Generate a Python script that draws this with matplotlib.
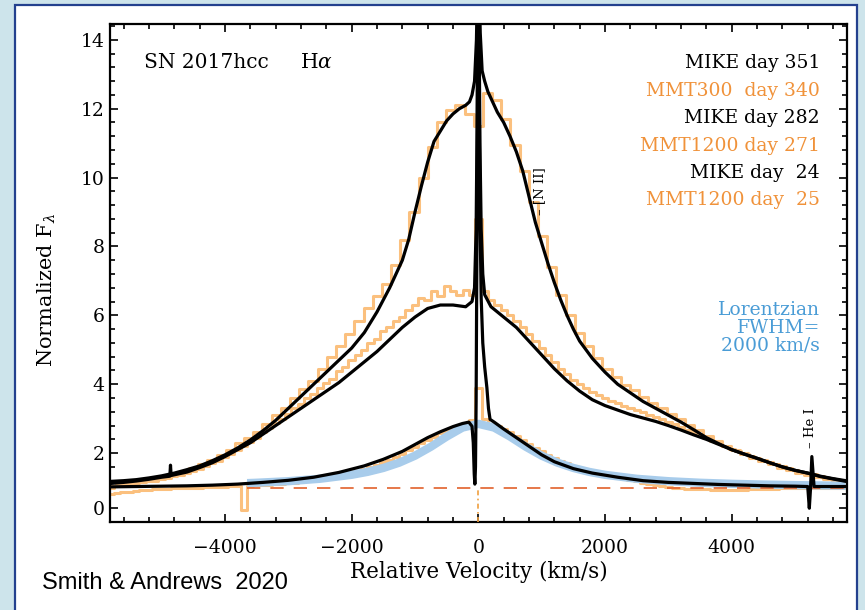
import numpy as np
import matplotlib
matplotlib.use("Agg")
import matplotlib.pyplot as plt
from matplotlib.patches import Rectangle

plt.rcParams['font.family'] = ['DejaVu Serif']
plt.rcParams['mathtext.fontset'] = 'dejavuserif'

# ---------------- data ----------------
# MIKE day 351
v351 = [-5800,-5600,-5400,-5200,-5000,-4800,-4600,-4400,-4200,-4000,-3800,-3600,-3400,-3200,-3000,
        -2800,-2600,-2400,-2200,-2000,-1800,-1600,-1400,-1200,-1100,-1000,-900,-800,-700,-600,-500,-400,
        -300,-200,-140,-100,-60,-30,-15,0,15,30,60,100,150,200,300,400,500,600,700,800,900,1000,
        1100,1200,1300,1400,1500,1600,1800,2000,2200,2400,2600,2800,3000,3200,3400,3600,3800,4000,
        4200,4400,4600,4800,5000,5200,5400,5600,5800]
f351 = [1.18,1.2,1.23,1.28,1.34,1.42,1.52,1.63,1.78,1.95,2.15,2.38,2.65,2.95,3.3,3.65,4.0,4.35,4.7,
        5.05,5.5,6.1,6.8,7.6,8.2,9.0,9.75,10.45,11.05,11.35,11.65,11.85,12.0,12.1,12.2,12.4,12.8,14.0,15.5,
        17.0,15.5,14.2,13.1,12.8,12.5,12.3,11.9,11.6,11.2,10.75,10.2,9.45,8.7,8.1,7.5,6.95,6.45,6.0,5.6,
        5.25,4.75,4.35,4.0,3.75,3.5,3.3,3.1,2.9,2.68,2.45,2.27,2.1,1.97,1.85,1.72,1.6,1.5,1.42,1.33,
        1.26,1.2]

# MIKE day 282
v282 = [-5800,-5600,-5400,-5200,-5000,-4870,-4860,-4850,-4600,-4400,-4200,-4000,-3800,-3600,-3400,
        -3200,-3000,-2800,-2600,-2400,-2200,-2000,-1800,-1600,-1400,-1200,-1000,-800,-600,-400,-200,
        -100,-60,-35,-20,-8,0,10,25,45,70,100,200,300,400,600,800,1000,1200,1400,1600,1800,2000,2200,
        2400,2600,2800,3000,3200,3400,3600,3800,4000,4200,4400,4600,4800,5000,5200,5400,5600,5800]
f282 = [1.12,1.15,1.19,1.24,1.3,1.33,1.65,1.35,1.45,1.58,1.72,1.9,2.1,2.3,2.55,2.8,3.05,3.3,3.55,3.8,
        4.05,4.35,4.65,4.95,5.3,5.65,5.95,6.2,6.3,6.3,6.25,6.4,6.8,8.5,11.5,15.0,17.0,15.0,11.0,8.5,
        7.2,6.6,6.25,6.1,5.95,5.65,5.25,4.85,4.45,4.1,3.8,3.55,3.38,3.25,3.12,3.02,2.92,2.8,2.67,2.53,
        2.4,2.25,2.1,1.97,1.85,1.72,1.6,1.5,1.42,1.32,1.25,1.18]

# MIKE day 24
v24 = [-5800,-5400,-5000,-4600,-4200,-3800,-3400,-3000,-2600,-2200,-1800,-1500,-1200,-1000,-800,-600,
       -400,-250,-150,-100,-80,-65,-55,-45,-35,-20,-8,0,10,25,45,70,100,135,160,185,250,400,600,800,
       1000,1200,1500,1800,2200,2600,3000,3400,3800,4200,4600,5000,5200,5225,5245,5265,5300,5600,5800]
f24 = [1.02,1.03,1.04,1.05,1.07,1.1,1.15,1.21,1.3,1.44,1.63,1.82,2.05,2.25,2.45,2.62,2.77,2.86,2.9,2.78,
       2.3,1.4,1.1,1.6,3.5,9.0,15.0,17.0,14.0,9.0,6.5,5.2,4.5,3.9,3.3,2.98,2.9,2.7,2.45,2.2,1.95,1.75,
       1.55,1.42,1.3,1.2,1.15,1.12,1.09,1.07,1.05,1.04,1.03,0.4,1.0,1.9,1.03,1.03,1.03]

# MMT300 day 340 (145 km/s bins)
v340 = list(range(-5800, 5801, 145))
f340 = [1.05,1.09,1.12,1.17,1.22,1.27,1.33,1.4,1.48,1.57,
        1.68,1.8,1.95,2.1,2.28,2.45,2.62,2.85,3.1,3.3,
        3.6,3.85,4.1,4.45,4.8,5.1,5.45,5.85,6.2,6.55,
        6.9,7.45,8.2,9.0,10.0,10.9,11.6,11.95,12.1,11.85,
        11.5,12.45,12.25,11.7,10.95,10.2,9.3,8.3,7.4,6.6,
        6.0,5.5,5.1,4.75,4.45,4.2,3.98,3.82,3.62,3.45,
        3.3,3.15,2.98,2.82,2.66,2.5,2.35,2.22,2.1,1.98,
        1.87,1.77,1.67,1.58,1.5,1.43,1.36,1.3,1.24,1.19,
        1.14]

# MMT1200 day 271 (100 km/s bins)
v271 = list(range(-5800, 5801, 100))
f271 = [1.0,1.05,1.08,1.1,1.12,1.15,1.18,1.2,1.25,1.28,
        1.33,1.36,1.42,1.48,1.55,1.62,1.7,1.78,1.88,1.98,
        2.08,2.2,2.33,2.45,2.6,2.72,2.88,3.0,3.15,3.3,
        3.42,3.6,3.72,3.9,4.05,4.15,4.38,4.5,4.7,4.85,
        5.0,5.2,5.3,5.55,5.65,5.85,5.95,6.15,6.3,6.5,
        6.45,6.7,6.55,6.85,6.7,6.6,6.75,6.6,8.8,6.7,
        6.45,6.3,6.15,6.0,5.85,5.65,5.45,5.25,5.05,4.85,
        4.65,4.45,4.3,4.12,4.0,3.88,3.78,3.68,3.6,3.52,
        3.45,3.38,3.32,3.25,3.18,3.1,3.04,2.98,2.9,2.84,
        2.76,2.68,2.6,2.52,2.44,2.36,2.28,2.2,2.12,2.06,
        2.0,1.93,1.86,1.8,1.74,1.68,1.62,1.56,1.5,1.46,
        1.42,1.38,1.33,1.29,1.25,1.2,1.16]

# MMT1200 day 25 (100 km/s bins)
v25 = list(range(-5800, 5801, 100))
f25 = [0.82,0.85,0.87,0.88,0.9,0.92,0.93,0.95,0.96,0.97,
       0.98,0.98,0.99,1.0,1.0,1.01,1.02,1.02,1.03,1.04,
       1.04,0.35,1.05,1.06,1.07,1.08,1.09,1.1,1.12,1.14,
       1.16,1.18,1.21,1.24,1.27,1.3,1.34,1.38,1.43,1.48,
       1.54,1.6,1.66,1.73,1.81,1.89,1.98,2.08,2.18,2.28,
       2.38,2.48,2.57,2.65,2.72,2.78,2.83,2.95,3.9,3.0,
       2.86,2.78,2.7,2.6,2.5,2.38,2.27,2.16,2.05,1.95,
       1.86,1.78,1.7,1.63,1.57,1.51,1.46,1.42,1.38,1.34,
       1.3,1.26,1.22,1.18,1.14,1.1,1.07,1.04,1.02,1.0,
       0.98,0.97,0.96,0.95,0.95,0.94,0.94,0.93,0.93,0.94,
       0.94,0.95,0.95,0.96,0.97,0.97,0.98,0.98,0.99,0.99,
       1.0,1.0,1.0,1.0,0.99,0.99,0.98]

# Lorentzian, FWHM = 2000 km/s (drawn from the start of the continuum marker)
vlor = [-3650,-3500,-3000,-2500,-2000,-1750,-1500,-1250,-1000,-750,-500,-250,0,
        250,500,750,1000,1250,1500,1750,2000,2500,3000,3500,4000,4500,5000,5800]
flor = [1.129,1.14,1.185,1.255,1.37,1.455,1.569,1.722,1.925,2.184,2.48,2.741,2.85,
        2.741,2.48,2.184,1.925,1.722,1.569,1.455,1.37,1.255,1.185,1.14,1.109,1.087,1.071,1.053]

continuum_level = 1.0
continuum_start = -3650

legend_rows = ["MIKE day 351", "MMT300  day 340", "MIKE day 282",
               "MMT1200 day 271", "MIKE day  24", "MMT1200 day  25"]
legend_is_mmt = [False, True, False, True, False, True]

xticks = [-4000, -2000, 0, 2000, 4000]
xticklabels = ["\u22124000", "\u22122000", "0", "2000", "4000"]
yticks = [0.4, 2, 4, 6, 8, 10, 12, 14]
yticklabels = ["0", "2", "4", "6", "8", "10", "12", "14"]

# ---------------- styling ----------------
BLACK = "#000000"
ORANGE_LINE = "#FBC07E"
ORANGE_TEXT = "#F0923A"
BLUE_LINE = "#A8CCEB"
BLUE_TEXT = "#4A9CD6"
DASH = "#E2612B"

W, H = 865, 610
fig = plt.figure(figsize=(W/100, H/100), dpi=100)
fig.patch.set_facecolor("#CDE4EB")
panel = Rectangle((15/W, -0.02), (857-15)/W, 1.02 - 5/H, transform=fig.transFigure,
                  facecolor="white", edgecolor="#23408E", linewidth=1.6, zorder=0)
fig.add_artist(panel)

ax = fig.add_axes([110/W, 1-522/H, 737/W, 498/H])
ax.set_facecolor("white")

ax.step(v340, f340, where='mid', color=ORANGE_LINE, lw=2.2, zorder=2)
ax.step(v271, f271, where='mid', color=ORANGE_LINE, lw=2.2, zorder=2)
ax.step(v25, f25, where='mid', color=ORANGE_LINE, lw=2.2, zorder=2)
ax.plot(vlor, flor, color=BLUE_LINE, lw=6, zorder=3, solid_capstyle='butt')
ax.hlines(continuum_level, continuum_start, 5820, colors=DASH, linestyles=(0, (8, 6)), lw=1.2, zorder=3)
ax.vlines(0, 0, continuum_level, colors="#F0A040", linestyles=(0, (3, 2, 1, 2)), lw=1.2, zorder=3)
ax.plot(v351, f351, color=BLACK, lw=2.3, zorder=4)
ax.plot(v282, f282, color=BLACK, lw=2.3, zorder=4)
ax.plot(v24, f24, color=BLACK, lw=2.3, zorder=4)

ax.set_xlim(-5815, 5820)
ax.set_ylim(0.0, 14.46)

ax.set_xticks(xticks)
ax.set_xticklabels(xticklabels)
ax.set_yticks(yticks)
ax.set_yticklabels(yticklabels)
ax.xaxis.set_minor_locator(matplotlib.ticker.MultipleLocator(400))
ax.yaxis.set_minor_locator(matplotlib.ticker.MultipleLocator(0.4))
ax.tick_params(which='both', direction='in', top=True, right=True, width=1.2, colors='black')
ax.tick_params(which='major', length=6, labelsize=13.5)
ax.tick_params(which='minor', length=3.3)
ax.tick_params(axis='x', which='major', pad=12)
ax.tick_params(axis='y', which='major', pad=4)
for s in ax.spines.values():
    s.set_linewidth(1.6)

ax.set_xlabel("Relative Velocity (km/s)", fontsize=15.5)
ax.xaxis.label.set_va('center')
ax.xaxis.set_label_coords(0.5, (522-572)/498)
ax.set_ylabel(r"Normalized F$_\lambda$", fontsize=15)
ax.yaxis.label.set_va('center')
ax.yaxis.set_label_coords((47-110)/737, (522-290)/498)

def axp(px, py):
    return ((px-110)/737, (522-py)/498)

ax.text(*axp(144, 63), "SN 2017hcc", transform=ax.transAxes, fontsize=14.5, ha='left', va='center')
ax.text(*axp(300, 63), r"H$\alpha$", transform=ax.transAxes, fontsize=14.5, ha='left', va='center')

row_y = [63.3, 90.7, 118.3, 146, 173.3, 200]
for txt, mmt, yy in zip(legend_rows, legend_is_mmt, row_y):
    ax.text(*axp(820, yy), txt, transform=ax.transAxes, fontsize=13.5, ha='right', va='center',
            color=ORANGE_TEXT if mmt else BLACK)

for txt, yy in zip(["Lorentzian", "FWHM=", "2000 km/s"], [310, 328, 345]):
    ax.text(*axp(820, yy), txt, transform=ax.transAxes, fontsize=13.5, ha='right', va='center',
            color=BLUE_TEXT)

ax.text(965, 8.9, "\u2013 [N II]", rotation=90, fontsize=9.5, ha='center', va='bottom')
ax.text(5250, 2.15, "\u2013 He I", rotation=90, fontsize=9.5, ha='center', va='bottom')

fig.text(42/W, 1-583/H, "Smith & Andrews  2020", fontsize=17, family='Liberation Sans',
         ha='left', va='center')

fig.savefig("out.png", dpi=100, facecolor=fig.get_facecolor())
